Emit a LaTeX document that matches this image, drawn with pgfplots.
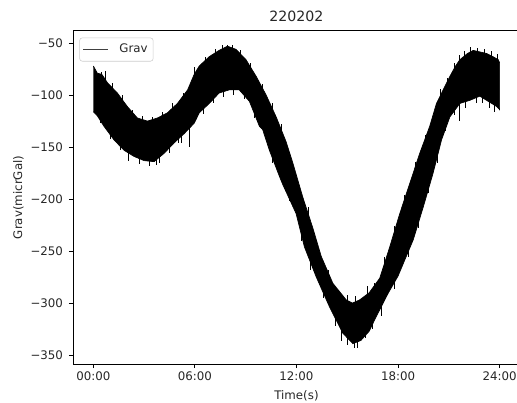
\documentclass[border=0pt]{standalone}
\usepackage{fontspec}
\setmainfont{DejaVu Sans}
\usepackage{pgfplots}
\pgfplotsset{compat=1.18}
\begin{document}
\begin{tikzpicture}
\begin{axis}[
  scale only axis,
  width=321.8pt, height=239.8pt,
  xmin=-1.2, xmax=25.2, ymin=-358.6, ymax=-38.3,
  axis line style={line width=0.7pt},
  tick style={line width=0.7pt, black},
  major tick length=3pt,
  tick align=outside,
  xtick pos=bottom, ytick pos=left,
  xtick={0,6,12,18,24},
  xticklabels={00:00,06:00,12:00,18:00,24:00},
  ytick={-350,-300,-250,-200,-150,-100,-50},
  yticklabels={−350,−300,−250,−200,−150,−100,−50},
  tick label style={font=\fontsize{8.5}{10}\selectfont, text=black!85},
  xticklabel style={anchor=north, inner sep=0pt, yshift=-2.5pt},
  yticklabel style={anchor=east, inner sep=0pt, xshift=-4pt},
  title={220202},
  title style={font=\fontsize{10.2}{12}\selectfont, text=black!85, at={(axis description cs:0.5,1.0195)}, anchor=center, inner sep=0pt},
  xlabel={Time(s)},
  xlabel style={font=\fontsize{8.5}{10}\selectfont, text=black!85, at={(axis description cs:0.5,-0.1055)}, anchor=base, inner sep=0pt},
  ylabel={Grav(micrGal)},
  ylabel style={font=\fontsize{8.5}{10}\selectfont, text=black!85, at={(axis description cs:-0.122,0.5)}, anchor=center, inner sep=0pt},
  legend style={at={(axis description cs:0.0141,0.98)}, anchor=north west,
    draw=black!20, rounded corners=2pt, fill=white, inner xsep=2pt, inner ysep=2.5pt,
    font=\fontsize{8.5}{10}\selectfont, text=black!85},
  legend cell align=left,
  legend image code/.code={\draw[#1, line width=1.2pt, sharp corners] (0pt,0pt) -- (18pt,0pt);},
  clip=true,
]
% noisy band: upper envelope forward, lower envelope backward
\addplot[draw=black, fill=black, line width=0.5pt, forget plot] coordinates {
(0.00,-72) (0.24,-79) (0.50,-80) (0.83,-88) (1.42,-98) (2.01,-111) (2.60,-122)
(3.20,-125) (3.79,-122) (4.38,-117) (4.97,-108) (5.57,-95) (5.96,-80) (6.26,-72)
(6.85,-63) (7.43,-57) (7.93,-53) (8.43,-56) (9.02,-66) (9.62,-82) (10.21,-100)
(10.80,-121) (11.39,-145) (11.78,-165) (12.37,-198) (12.97,-228) (13.46,-255)
(14.15,-281) (14.94,-297) (15.30,-300) (15.73,-297) (16.30,-290) (16.92,-276)
(17.51,-246) (18.10,-214) (18.69,-185) (19.28,-156) (19.87,-130) (20.27,-108)
(21.06,-82) (21.40,-72) (21.65,-66) (22.10,-60) (22.44,-57) (23.23,-60)
(23.60,-63) (23.92,-66) (24.00,-69)
(24.00,-114) (23.83,-111) (23.23,-105) (22.83,-101) (22.24,-105) (21.65,-108)
(21.06,-121) (20.57,-143) (20.07,-175) (19.50,-207) (18.90,-239) (18.00,-274)
(17.40,-291) (16.62,-316) (16.30,-327) (15.80,-336) (15.33,-339) (14.74,-329)
(13.96,-304) (13.17,-275) (12.47,-246) (11.98,-214) (11.19,-186) (10.99,-178)
(10.40,-153) (10.00,-133) (9.81,-130) (9.22,-106) (8.62,-95) (8.02,-95)
(7.43,-98) (6.85,-108) (6.26,-117) (5.96,-127) (5.37,-137) (4.77,-146)
(4.18,-156) (3.59,-164) (3.00,-163) (2.41,-159) (1.81,-153) (1.22,-143)
(0.63,-130) (0.24,-120) (0.00,-116)
};
% individual spikes sticking out of the band
\addplot[black, line width=0.6pt, forget plot, unbounded coords=jump] coordinates {
(0.73,-92) (0.73,-77) (0.73,nan)
(2.05,-150) (2.05,-163) (2.05,nan)
(3.70,-155) (3.70,-167) (3.70,nan)
(5.23,-130) (5.23,-146) (5.23,nan)
(5.70,-128) (5.70,-150) (5.70,nan)
(7.93,-60) (7.93,-52) (7.93,nan)
(14.65,-325) (14.65,-336) (14.65,nan)
(15.40,-335) (15.40,-343) (15.40,nan)
(16.10,-328) (16.10,-334) (16.10,nan)
(16.20,-295) (16.20,-284) (16.20,nan)
(21.63,-105) (21.63,-125) (21.63,nan)
(21.60,-66) (21.60,-61) (21.60,nan)
(0.45,-90) (0.45,-78) (0.45,nan)
(1.10,-100) (1.10,-88) (1.10,nan)
(1.70,-112) (1.70,-100) (1.70,nan)
(2.30,-126) (2.30,-114) (2.30,nan)
(2.90,-132) (2.90,-120) (2.90,nan)
(3.50,-133) (3.50,-121) (3.50,nan)
(4.10,-128) (4.10,-116) (4.10,nan)
(4.70,-120) (4.70,-108) (4.70,nan)
(5.30,-110) (5.30,-98) (5.30,nan)
(6.00,-85) (6.00,-73) (6.00,nan)
(6.60,-75) (6.60,-63) (6.60,nan)
(7.20,-68) (7.20,-56) (7.20,nan)
(7.60,-64) (7.60,-52) (7.60,nan)
(8.20,-64) (8.20,-52) (8.20,nan)
(8.70,-69) (8.70,-57) (8.70,nan)
(9.30,-81) (9.30,-69) (9.30,nan)
(10.00,-101) (10.00,-89) (10.00,nan)
(10.60,-120) (10.60,-108) (10.60,nan)
(11.10,-140) (11.10,-128) (11.10,nan)
(12.70,-220) (12.70,-208) (12.70,nan)
(13.90,-280) (13.90,-268) (13.90,nan)
(14.50,-299) (14.50,-287) (14.50,nan)
(15.00,-304) (15.00,-292) (15.00,nan)
(15.50,-305) (15.50,-293) (15.50,nan)
(16.60,-293) (16.60,-281) (16.60,nan)
(17.20,-268) (17.20,-256) (17.20,nan)
(17.80,-238) (17.80,-226) (17.80,nan)
(18.40,-208) (18.40,-196) (18.40,nan)
(19.00,-176) (19.00,-164) (19.00,nan)
(19.60,-150) (19.60,-138) (19.60,nan)
(20.50,-106) (20.50,-94) (20.50,nan)
(20.90,-96) (20.90,-84) (20.90,nan)
(21.30,-81) (21.30,-69) (21.30,nan)
(21.90,-70) (21.90,-58) (21.90,nan)
(22.30,-66) (22.30,-54) (22.30,nan)
(22.70,-67) (22.70,-55) (22.70,nan)
(23.10,-68) (23.10,-56) (23.10,nan)
(23.50,-70) (23.50,-58) (23.50,nan)
(23.85,-72) (23.85,-60) (23.85,nan)
(0.40,-115) (0.40,-127) (0.40,nan)
(1.00,-130) (1.00,-142) (1.00,nan)
(1.60,-141) (1.60,-153) (1.60,nan)
(2.70,-154) (2.70,-166) (2.70,nan)
(3.30,-156) (3.30,-168) (3.30,nan)
(3.90,-153) (3.90,-165) (3.90,nan)
(4.50,-144) (4.50,-156) (4.50,nan)
(5.00,-134) (5.00,-146) (5.00,nan)
(6.50,-106) (6.50,-118) (6.50,nan)
(7.10,-96) (7.10,-108) (7.10,nan)
(7.70,-90) (7.70,-102) (7.70,nan)
(8.30,-88) (8.30,-100) (8.30,nan)
(8.90,-92) (8.90,-104) (8.90,nan)
(9.50,-110) (9.50,-122) (9.50,nan)
(10.60,-153) (10.60,-165) (10.60,nan)
(11.60,-190) (11.60,-202) (11.60,nan)
(12.30,-228) (12.30,-240) (12.30,nan)
(12.80,-256) (12.80,-268) (12.80,nan)
(13.60,-283) (13.60,-295) (13.60,nan)
(14.30,-310) (14.30,-322) (14.30,nan)
(15.00,-328) (15.00,-340) (15.00,nan)
(15.60,-331) (15.60,-343) (15.60,nan)
(16.50,-313) (16.50,-325) (16.50,nan)
(17.00,-300) (17.00,-312) (17.00,nan)
(17.80,-274) (17.80,-286) (17.80,nan)
(18.60,-244) (18.60,-256) (18.60,nan)
(19.20,-216) (19.20,-228) (19.20,nan)
(19.80,-182) (19.80,-194) (19.80,nan)
(20.30,-153) (20.30,-165) (20.30,nan)
(20.80,-123) (20.80,-135) (20.80,nan)
(21.30,-107) (21.30,-119) (21.30,nan)
(22.00,-100) (22.00,-112) (22.00,nan)
(22.60,-96) (22.60,-108) (22.60,nan)
(23.00,-96) (23.00,-108) (23.00,nan)
(23.40,-100) (23.40,-112) (23.40,nan)
(23.70,-104) (23.70,-116) (23.70,nan)
};
\addlegendimage{draw=black!75}
\addlegendentry{\hspace{5.5pt}Grav}
\end{axis}
\pgfresetboundingbox
\path (current axis.south west) ++(-52.56pt,-27.36pt) rectangle ++(372.24pt,289.44pt);
\end{tikzpicture}
\end{document}
